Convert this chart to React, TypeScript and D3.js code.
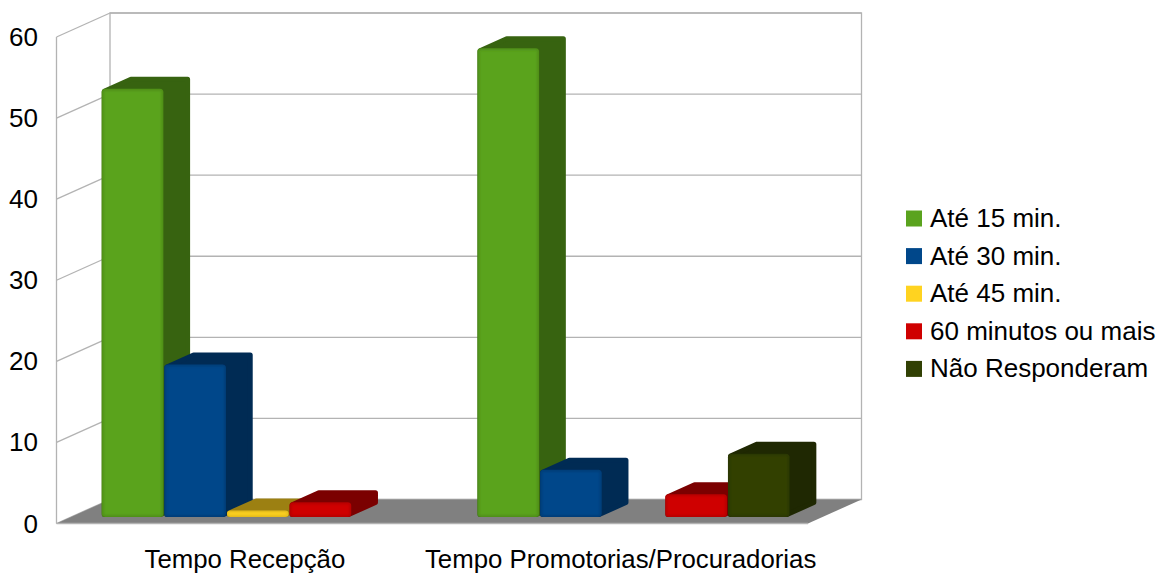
import React from 'react';
import * as d3 from 'd3';

const categories = ['Tempo Recepção', 'Tempo Promotorias/Procuradorias'];
const seriesNames = ['Até 15 min.', 'Até 30 min.', 'Até 45 min.', '60 minutos ou mais', 'Não Responderam'];
const recepcao = [53, 19, 1, 2, 0];
const promotorias = [58, 6, 0, 3, 8];
const yTicks = [0, 10, 20, 30, 40, 50, 60];

const frontColors = ['#5aa31e', '#00478a', '#ffd320', '#cf0000', '#314004'];
const edgeColors = ['#4f8f1a', '#003e78', '#e6bd1c', '#b80000', '#2b3803'];
const sideColors = ['#376310', '#002b54', '#9c8012', '#7b0000', '#1f2802'];

const font = '"Liberation Sans", Arial, sans-serif';
const gridColor = '#b3b3b3';

// plot geometry: front plane plus the offset to the back wall
const left = 56.5;
const right = 808;
const depthX = 53.5;
const depthY = -24;

const y = d3.scaleLinear().domain([0, 60]).range([523.5, 37]);
const x0 = d3.scaleBand<string>().domain(categories).range([left, right]);
const x1 = d3.scaleBand<string>().domain(seriesNames).range([0, x0.bandwidth()]).paddingOuter(0.5);

function Bar({ cat, i, value }: { cat: string; i: number; value: number }) {
  if (!value) return null;
  const bx = (x0(cat) || 0) + (x1(seriesNames[i]) || 0) + depthX * 0.26;
  const w = x1.bandwidth() - 1;
  const base = y(0) + depthY * 0.27;
  const top = base - (y(0) - y(value)) + 1.5;
  const dx = depthX * 0.5;
  const dy = depthY * 0.5;
  const r = 2.5;
  const hull = [
    [bx + r, base - r],
    [bx + r, top + r],
    [bx + r + dx, top + dy + r],
    [bx + w + dx - r, top + dy + r],
    [bx + w + dx - r, base + dy - r],
    [bx + w - r, base - r],
  ];
  return (
    <g>
      <polygon
        points={hull.map(p => p.join(',')).join(' ')}
        fill={sideColors[i]}
        stroke={sideColors[i]}
        strokeWidth={r * 2}
        strokeLinejoin="round"
      />
      <rect x={bx} y={top} width={w} height={base - top} rx={3.5} fill={edgeColors[i]} />
      <rect
        x={bx + 2}
        y={top + 2}
        width={Math.max(w - 4, 0)}
        height={Math.max(base - top - 4, 1)}
        fill={frontColors[i]}
        filter="url(#soft)"
      />
    </g>
  );
}

export default function App() {
  const rows = [recepcao, promotorias];
  return (
    <svg
      width={1165}
      height={574}
      style={{ position: 'absolute', left: 0, top: 0, background: '#fff' }}
      fontFamily={font}
    >
      <defs>
        <filter id="soft" x="-10%" y="-10%" width="120%" height="120%">
          <feGaussianBlur stdDeviation="0.8" />
        </filter>
      </defs>

      {/* walls and grid */}
      <rect
        x={left + depthX}
        y={y(60) + depthY}
        width={right - left}
        height={y(0) - y(60)}
        fill="none"
        stroke={gridColor}
        strokeWidth={1.3}
      />
      <line x1={left} x2={left} y1={y(0)} y2={y(60)} stroke={gridColor} strokeWidth={1.3} />
      {yTicks.map(t => (
        <g key={t} stroke={gridColor} strokeWidth={1.3}>
          <line x1={left} x2={left + depthX} y1={y(t)} y2={y(t) + depthY} />
          <line x1={left + depthX} x2={right + depthX} y1={y(t) + depthY} y2={y(t) + depthY} />
        </g>
      ))}

      {/* floor */}
      <polygon
        points={[
          [left, y(0)],
          [left + depthX, y(0) + depthY],
          [right + depthX, y(0) + depthY],
          [right, y(0)],
        ].map(p => p.join(',')).join(' ')}
        fill="#808080"
      />
      <line x1={left} x2={right} y1={y(0)} y2={y(0)} stroke={gridColor} strokeWidth={1.3} />

      {/* bars */}
      {categories.map((cat, c) => (
        <g key={cat}>
          {rows[c].map((v, i) => (
            <Bar key={i} cat={cat} i={i} value={v} />
          ))}
        </g>
      ))}

      {/* axis labels */}
      {yTicks.map(t => (
        <text key={t} x={38} y={y(t) + 9} textAnchor="end" fontSize={26} fill="#000">
          {t}
        </text>
      ))}
      {categories.map(cat => (
        <text
          key={cat}
          x={(x0(cat) || 0) + x0.bandwidth() / 2 + 0.5}
          y={567.5}
          textAnchor="middle"
          fontSize={25.8}
          fill="#000"
        >
          {cat}
        </text>
      ))}

      {/* legend */}
      {seriesNames.map((name, i) => (
        <g key={name} transform={`translate(906,${210.5 + i * 37.6})`}>
          <rect width={16} height={16} fill={frontColors[i]} />
          <text x={24} y={16.5} fontSize={26} fill="#000">
            {name}
          </text>
        </g>
      ))}
    </svg>
  );
}
